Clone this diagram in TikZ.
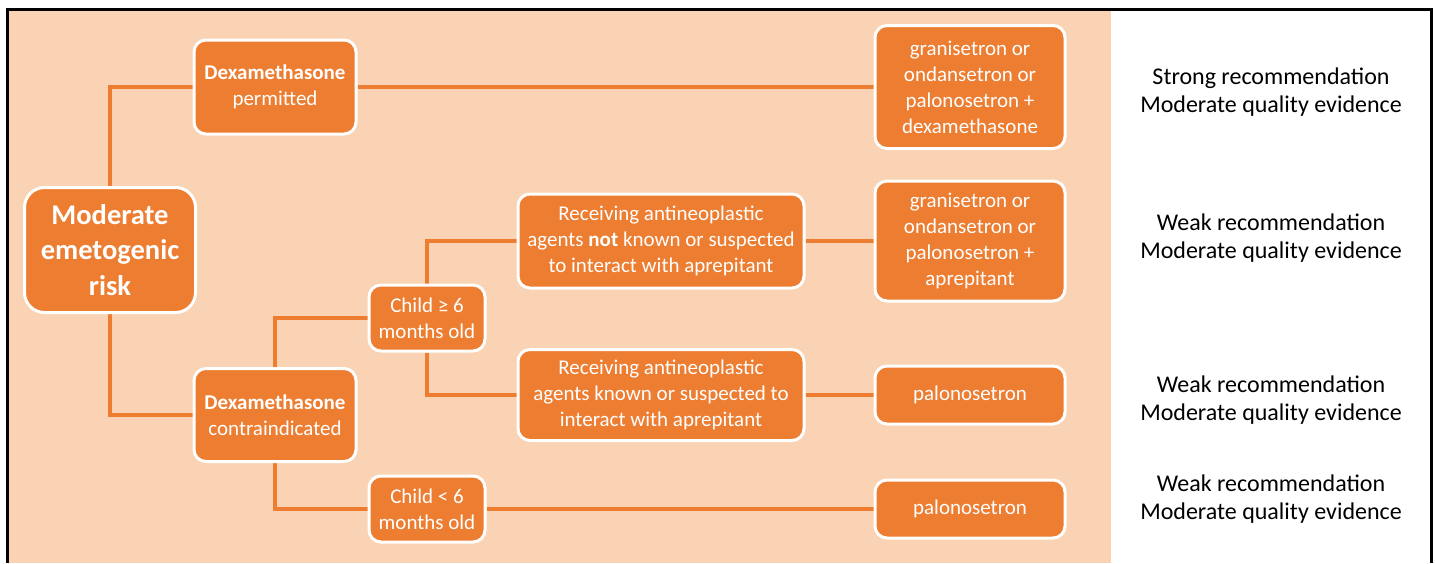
\documentclass[tikz,border=0pt]{standalone}
\usepackage{fontspec}
\setmainfont{Carlito}
\usetikzlibrary{backgrounds}
\definecolor{accent}{HTML}{ED7D31}
\definecolor{peach}{HTML}{F9D3B3}
\tikzset{
  box/.style={draw=white, line width=3pt, fill=accent, rounded corners=12pt,
    text=white, align=center, inner sep=0pt, font=\fontsize{21}{26}\selectfont},
  link/.style={draw=accent, line width=3.5pt},
  grade/.style={align=center, font=\fontsize{24}{28.5}\selectfont}
}
\begin{document}
\begin{tikzpicture}[x=1pt, y=-1pt]
  \useasboundingbox (0,0) rectangle (1435,563);
  % decision boxes
  \node[box, minimum width=171, minimum height=125, rounded corners=20pt,
    font=\bfseries\fontsize{28.5}{35.5}\selectfont] (risk) at (110,250) {Moderate\\emetogenic\\risk};
  \node[box, minimum width=162, minimum height=94] (dexok) at (275,87) {\textbf{Dexamethasone}\\permitted};
  \node[box, minimum width=162, minimum height=93] (dexno) at (275,415) {\textbf{Dexamethasone}\\contraindicated};
  \node[box, minimum width=116, minimum height=66] (older) at (427,318) {Child ≥ 6\\months old};
  \node[box, minimum width=116, minimum height=66] (younger) at (427,509) {Child < 6\\months old};
  \node[box, minimum width=286, minimum height=94] (noint) at (661,241) {Receiving antineoplastic\\agents \textbf{not} known or suspected\\to interact with aprepitant};
  \node[box, minimum width=286, minimum height=91] (int) at (661,395) {Receiving antineoplastic\\agents known or suspected to\\interact with aprepitant};
  % treatments
  \node[box, minimum width=190, minimum height=123] (rx1) at (970,87) {granisetron or\\ondansetron or\\palonosetron +\\dexamethasone};
  \node[box, minimum width=190, minimum height=120] (rx2) at (970,241) {granisetron or\\ondansetron or\\palonosetron +\\aprepitant};
  \node[box, minimum width=190, minimum height=58] (rx3) at (970,395) {palonosetron};
  \node[box, minimum width=190, minimum height=58] (rx4) at (970,509) {palonosetron};
  % grading
  \node[grade] (g1) at (1271,92) {Strong recommendation\\Moderate quality evidence};
  \node[grade] (g2) at (1271,238) {Weak recommendation\\Moderate quality evidence};
  \node[grade] (g3) at (1271,400) {Weak recommendation\\Moderate quality evidence};
  \node[grade] (g4) at (1271,499) {Weak recommendation\\Moderate quality evidence};
  \begin{pgfonlayer}{background}
    \fill[peach] (7,9) rectangle (1111,563);
    \draw[line width=3pt] (7,563) -- (7,9) -- (1431,9) -- (1431,563);
    \draw[link] (risk.north) |- (dexok.west);
    \draw[link] (risk.south) |- (dexno.west);
    \draw[link] (dexok) -- (rx1);
    \draw[link] (dexno.north) |- (older.west);
    \draw[link] (dexno.south) |- (younger.west);
    \draw[link] (older.north) |- (noint.west);
    \draw[link] (older.south) |- (int.west);
    \draw[link] (noint) -- (rx2);
    \draw[link] (int) -- (rx3);
    \draw[link] (younger) -- (rx4);
  \end{pgfonlayer}
\end{tikzpicture}
\end{document}
